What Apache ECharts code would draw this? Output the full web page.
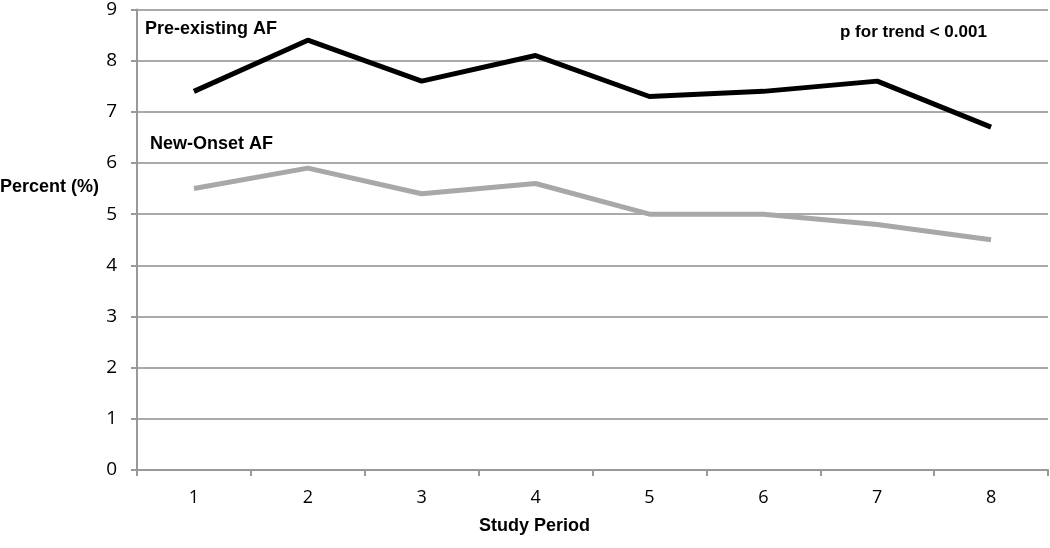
<!DOCTYPE html>
<html><head><meta charset="utf-8">
<script src="https://cdn.jsdelivr.net/npm/echarts@6/dist/echarts.min.js"></script>
<style>html,body{margin:0;padding:0;background:#fff}#c{width:1050px;height:548px}</style>
</head><body><div id="c"></div>
<script>
const categories = ['1','2','3','4','5','6','7','8'];
const preExisting = [7.4, 8.4, 7.6, 8.1, 7.3, 7.4, 7.6, 6.7];
const newOnset = [5.5, 5.9, 5.4, 5.6, 5.0, 5.0, 4.8, 4.5];
const seriesNames = ['Pre-existing AF', 'New-Onset AF'];
const yAxisName = 'Percent (%)';
const xAxisName = 'Study Period';
const pText = 'p for trend < 0.001';

const chart = echarts.init(document.getElementById('c'));
const bold = {fontFamily: 'Liberation Sans, Arial, sans-serif', fontWeight: 'bold', fontSize: 18, fill: '#000'};
chart.setOption({
  animation: false,
  grid: {left: 137, right: 2, top: 7, bottom: 78},
  xAxis: {
    type: 'category', data: categories, boundaryGap: true,
    axisLine: {lineStyle: {color: '#999', width: 2}},
    axisTick: {show: true, length: 6, lineStyle: {color: '#999', width: 2}},
    axisLabel: {color: '#000', fontSize: 18, fontFamily: 'Open Sans, sans-serif', margin: 19}
  },
  yAxis: {
    type: 'value', min: 0, max: 9, interval: 1,
    axisLine: {show: true, lineStyle: {color: '#999', width: 2}},
    axisTick: {show: true, length: 6, lineStyle: {color: '#999', width: 2}},
    splitLine: {lineStyle: {color: '#aaa', width: 2}},
    axisLabel: {color: '#000', fontSize: 19, fontFamily: 'Open Sans, sans-serif', margin: 20}
  },
  graphic: [
    {type: 'text', left: 0, top: 178, style: Object.assign({text: yAxisName}, bold)},
    {type: 'text', left: 145, top: 20, style: Object.assign({text: seriesNames[0]}, bold)},
    {type: 'text', left: 150, top: 135, style: Object.assign({text: seriesNames[1]}, bold)},
    {type: 'text', left: 840, top: 24, style: Object.assign({text: pText}, bold, {fontSize: 17})},
    {type: 'text', left: 479, top: 517, style: Object.assign({text: xAxisName}, bold)}
  ],
  series: [
    {name: seriesNames[0], type: 'line', data: preExisting, symbol: 'none',
     lineStyle: {color: '#000', width: 5}},
    {name: seriesNames[1], type: 'line', data: newOnset, symbol: 'none',
     lineStyle: {color: '#a8a8a8', width: 5}}
  ]
});
</script></body></html>
